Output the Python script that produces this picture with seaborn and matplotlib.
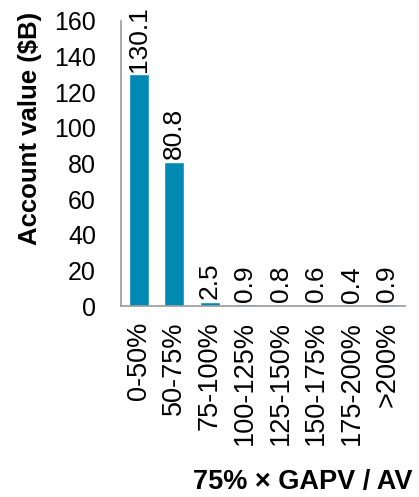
import matplotlib
matplotlib.use("Agg")
import matplotlib.pyplot as plt
import seaborn as sns
import pandas as pd

categories = ["0-50%", "50-75%", "75-100%", "100-125%", "125-150%",
              "150-175%", "175-200%", ">200%"]
values = [130.1, 80.8, 2.5, 0.9, 0.8, 0.6, 0.4, 0.9]
y_ticks = [0, 20, 40, 60, 80, 100, 120, 140, 160]

sns.set_style("white")
plt.rcParams["font.family"] = ["Liberation Sans", "DejaVu Sans"]
plt.rcParams["text.color"] = "black"
plt.rcParams["xtick.color"] = "black"
plt.rcParams["ytick.color"] = "black"

df = pd.DataFrame({"bucket": categories, "value": values})

fig = plt.figure(figsize=(4.19, 4.97), dpi=100)
ax = fig.add_axes([121 / 419, 1 - 306 / 497, (405 - 121) / 419, (306 - 21) / 497])

sns.barplot(data=df, x="bucket", y="value", color="#0089B3", width=0.57,
            saturation=1, ax=ax)

for i, v in enumerate(values):
    ax.text(i, v + 1.5, f"{v:.1f}", rotation=90, ha="center", va="bottom",
            fontsize=19, color="black")

ax.set_ylim(0, 160)
ax.set_yticks(y_ticks)
ax.set_xlim(-0.5, len(categories) - 0.5)
ax.tick_params(axis="y", length=0, labelsize=18, pad=18, labelcolor="black")
ax.tick_params(axis="x", length=0, labelsize=19.5, pad=11, rotation=90,
               labelcolor="black")
for lbl in ax.get_xticklabels():
    lbl.set_va("top")
    lbl.set_ha("center")

ax.set_xlabel("")
ax.set_ylabel("")
for side in ["top", "right"]:
    ax.spines[side].set_visible(False)
for side in ["left", "bottom"]:
    ax.spines[side].set_color("#9a9a9a")
    ax.spines[side].set_linewidth(1.2)

fig.text(30 / 419, 1 - 128 / 497, "Account value ($B)", rotation=90,
         ha="center", va="center", fontsize=18.5, fontweight="bold",
         color="black")
fig.text(412 / 419, 1 - 482 / 497, "75% × GAPV / AV", ha="right",
         va="center", fontsize=19.5, fontweight="bold", color="black")

fig.savefig("out.png", dpi=100)
